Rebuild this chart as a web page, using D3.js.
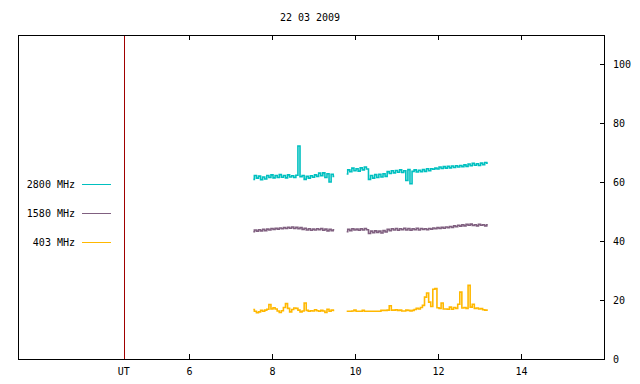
<!DOCTYPE html>
<html>
<head>
<meta charset="utf-8">
<script src="https://cdn.jsdelivr.net/npm/d3@7"></script>
<style>
  body { margin: 0; background: #fff; }
  text { font-family: "DejaVu Sans Mono", monospace; font-size: 10px; fill: #000; }
</style>
</head>
<body>
<div id="chart"></div>
<script>
// observation date and UT marker
const title = "22 03 2009";
const utMarker = 4.43;
const xTicks = [6, 8, 10, 12, 14];
const yTicks = [0, 20, 40, 60, 80, 100];

// morning block, hours UT
const times1 = [7.55, 7.60, 7.65, 7.70, 7.75, 7.80, 7.85, 7.90, 7.95, 8.00,
  8.05, 8.10, 8.15, 8.20, 8.25, 8.30, 8.35, 8.40, 8.45, 8.50,
  8.55, 8.60, 8.65, 8.70, 8.75, 8.80, 8.85, 8.90, 8.95, 9.00,
  9.05, 9.10, 9.15, 9.20, 9.25, 9.30, 9.35, 9.40, 9.45, 9.50];
// afternoon block
const times2 = [9.80, 9.85, 9.90, 9.95, 10.00, 10.05, 10.10, 10.15, 10.20, 10.25, 10.30,
  10.35, 10.40, 10.45, 10.50, 10.55, 10.60, 10.65, 10.70, 10.75,
  10.80, 10.85, 10.90, 10.95, 11.00, 11.05, 11.10, 11.15, 11.20,
  11.25, 11.30, 11.35, 11.40, 11.45, 11.50, 11.55, 11.60, 11.65, 11.70, 11.75,
  11.80, 11.85, 11.90, 11.95, 12.00, 12.05, 12.10, 12.15, 12.20, 12.25, 12.30,
  12.35, 12.40, 12.45, 12.50, 12.55, 12.60, 12.65, 12.70, 12.75,
  12.80, 12.85, 12.90, 12.95, 13.00, 13.05, 13.10, 13.15, 13.20];

const f2800a = [61.0, 62.3, 61.4, 62.1, 60.9, 61.8, 61.1, 62.3, 61.6, 62.5,
  61.5, 62.3, 61.6, 62.6, 61.7, 62.3, 61.5, 62.5, 61.8, 62.2,
  61.6, 62.4, 72.3, 61.9, 62.3, 61.0, 62.0, 61.4, 62.2, 61.7,
  62.5, 62.0, 63.1, 62.2, 63.2, 61.6, 62.9, 60.1, 62.7, 62.0];
const f2800b = [62.8, 64.2, 63.6, 64.8, 63.9, 64.6, 63.8, 64.9, 64.2, 65.2, 64.5,
  61.0, 62.3, 61.4, 62.6, 61.6, 62.7, 61.8, 62.9, 62.0,
  63.6, 63.0, 63.9, 63.2, 64.0, 63.4, 64.2, 63.3, 63.9,
  60.6, 64.3, 59.5, 63.7, 64.2, 63.5, 64.1, 63.6, 64.3, 63.7, 64.6,
  63.9, 64.6, 64.4, 64.8, 64.5, 65.2, 64.7, 65.3, 64.8, 65.4, 64.9,
  65.5, 65.0, 65.6, 65.2, 65.7, 65.3, 65.9, 65.4, 66.2,
  65.6, 66.4, 65.8, 66.3, 65.7, 66.5, 66.0, 66.7, 66.5];

const f1580a = [43.2, 43.8, 43.4, 43.9, 43.5, 44.0, 43.6, 44.1, 43.8, 44.3,
  44.0, 44.4, 44.1, 44.5, 44.2, 44.6, 44.3, 44.7, 44.4, 44.8,
  44.3, 44.7, 44.2, 44.6, 44.0, 44.4, 43.8, 44.2, 43.7, 44.1,
  43.8, 44.2, 43.9, 44.3, 43.7, 44.1, 43.5, 44.0, 43.6, 43.9];
const f1580b = [43.2, 44.0, 43.6, 44.2, 43.8, 44.1, 43.7, 44.2, 43.8, 44.3, 43.9,
  42.6, 43.4, 42.9, 43.5, 43.0, 43.4, 42.8, 43.6, 43.1,
  44.0, 43.6, 44.2, 43.8, 44.3, 43.7, 44.2, 43.9, 44.4,
  43.8, 44.3, 43.7, 44.2, 43.9, 44.4, 43.8, 44.3, 44.0, 44.2, 43.9,
  44.3, 44.1, 44.5, 44.2, 44.6, 44.3, 44.7, 44.4, 44.8, 44.6, 45.0,
  44.7, 45.2, 44.9, 45.4, 45.1, 45.6, 45.2, 45.7, 45.4,
  45.8, 45.3, 45.6, 45.2, 45.7, 45.4, 45.6, 45.2, 45.6];

const f403a = [16.8, 16.2, 15.7, 16.0, 16.5, 16.2, 16.6, 16.9, 18.5, 17.0,
  17.4, 17.0, 16.3, 15.8, 16.4, 17.5, 18.8, 17.2, 16.0, 16.8,
  17.3, 17.2, 16.6, 16.0, 16.3, 19.0, 16.5, 16.2, 16.4, 16.3,
  16.7, 16.4, 16.2, 16.5, 16.3, 15.8, 16.9, 16.2, 16.6, 16.5];
const f403b = [16.2, 16.2, 16.2, 16.3, 16.6, 16.2, 16.2, 16.2, 16.5, 16.2, 16.2,
  16.2, 16.2, 16.2, 16.2, 16.2, 16.2, 16.5, 16.5, 16.5,
  16.6, 18.1, 16.6, 16.6, 16.7, 16.5, 16.6, 16.3, 16.3,
  16.6, 16.5, 16.3, 16.5, 16.8, 17.2, 17.0, 17.5, 18.2, 21.0, 22.4,
  19.3, 17.8, 23.7, 23.9, 17.4, 17.2, 19.0, 17.0, 17.0, 16.9, 17.6,
  16.9, 17.5, 17.2, 18.6, 22.7, 17.3, 17.5, 17.2, 25.0,
  17.6, 18.6, 17.2, 17.3, 17.0, 17.1, 16.7, 16.6, 16.6];

const seriesNames = ["2800 MHz", "1580 MHz", "403 MHz"];
const seriesColors = ["#00c0c0", "#806080", "#ffb800"];

const w = 640, h = 384;
const m = { left: 18, right: 36, top: 35, bottom: 25 };

const svg = d3.select("#chart").append("svg")
  .attr("width", w)
  .attr("height", h);

const x = d3.scaleLinear().domain([1.88, 16]).range([m.left, w - m.right]);
const y = d3.scaleLinear().domain([0, 110]).range([h - m.bottom, m.top]);

svg.append("text")
  .attr("x", 310).attr("y", 21)
  .attr("text-anchor", "middle")
  .text(title);

// axes: ticks point inward like the original plot
const axBottom = svg.append("g")
  .attr("transform", `translate(0,${h - m.bottom})`)
  .call(d3.axisBottom(x).tickValues(xTicks).tickSize(-5).tickPadding(9));
const axTop = svg.append("g")
  .attr("transform", `translate(0,${m.top})`)
  .call(d3.axisTop(x).tickValues(xTicks).tickSize(-5).tickFormat(""));
const axRight = svg.append("g")
  .attr("transform", `translate(${w - m.right},0)`)
  .call(d3.axisRight(y).tickValues(yTicks).tickSize(-4).tickPadding(9));
axRight.selectAll(".tick line").attr("x2", -4).attr("x1", 1);
axTop.selectAll("text").remove();

[axBottom, axTop, axRight].forEach(g => {
  g.select(".domain").remove();
  g.selectAll("line").attr("stroke", "#000").attr("shape-rendering", "crispEdges");
  g.selectAll("text").style("font-family", "DejaVu Sans Mono, monospace").style("font-size", "10px");
});
axRight.selectAll("text").attr("text-anchor", "start");

svg.append("rect")
  .attr("x", m.left + 0.5).attr("y", m.top + 0.5)
  .attr("width", w - m.left - m.right).attr("height", h - m.top - m.bottom)
  .attr("fill", "none").attr("stroke", "#000").attr("shape-rendering", "crispEdges");

// UT marker line
svg.append("line")
  .attr("x1", Math.round(x(utMarker)) + 0.5).attr("x2", Math.round(x(utMarker)) + 0.5)
  .attr("y1", m.top + 1).attr("y2", h - m.bottom)
  .attr("stroke", "#a00000");
svg.append("text")
  .attr("x", x(utMarker)).attr("y", h - m.bottom + 16)
  .attr("text-anchor", "middle")
  .text("UT");

// step curve gives the thin vertical spikes of the receiver record
const lineFun = d3.line()
  .curve(d3.curveStep)
  .x(d => x(d[0]))
  .y(d => y(d[1]));

const blocks = [
  [f2800a, f2800b],
  [f1580a, f1580b],
  [f403a, f403b]
];

blocks.forEach((pair, i) => {
  [[times1, pair[0]], [times2, pair[1]]].forEach(([t, v]) => {
    svg.append("path")
      .attr("d", lineFun(d3.zip(t, v)))
      .attr("fill", "none")
      .attr("stroke", seriesColors[i])
      .attr("stroke-width", 1.6);
  });
});

// legend
const legendY = [184, 213, 242];
seriesNames.forEach((name, i) => {
  svg.append("text")
    .attr("x", 75).attr("y", legendY[i] + 4)
    .attr("text-anchor", "end")
    .text(name);
  svg.append("line")
    .attr("x1", 82).attr("x2", 111)
    .attr("y1", legendY[i] + 0.5).attr("y2", legendY[i] + 0.5)
    .attr("stroke", seriesColors[i]);
});
</script>
</body>
</html>
